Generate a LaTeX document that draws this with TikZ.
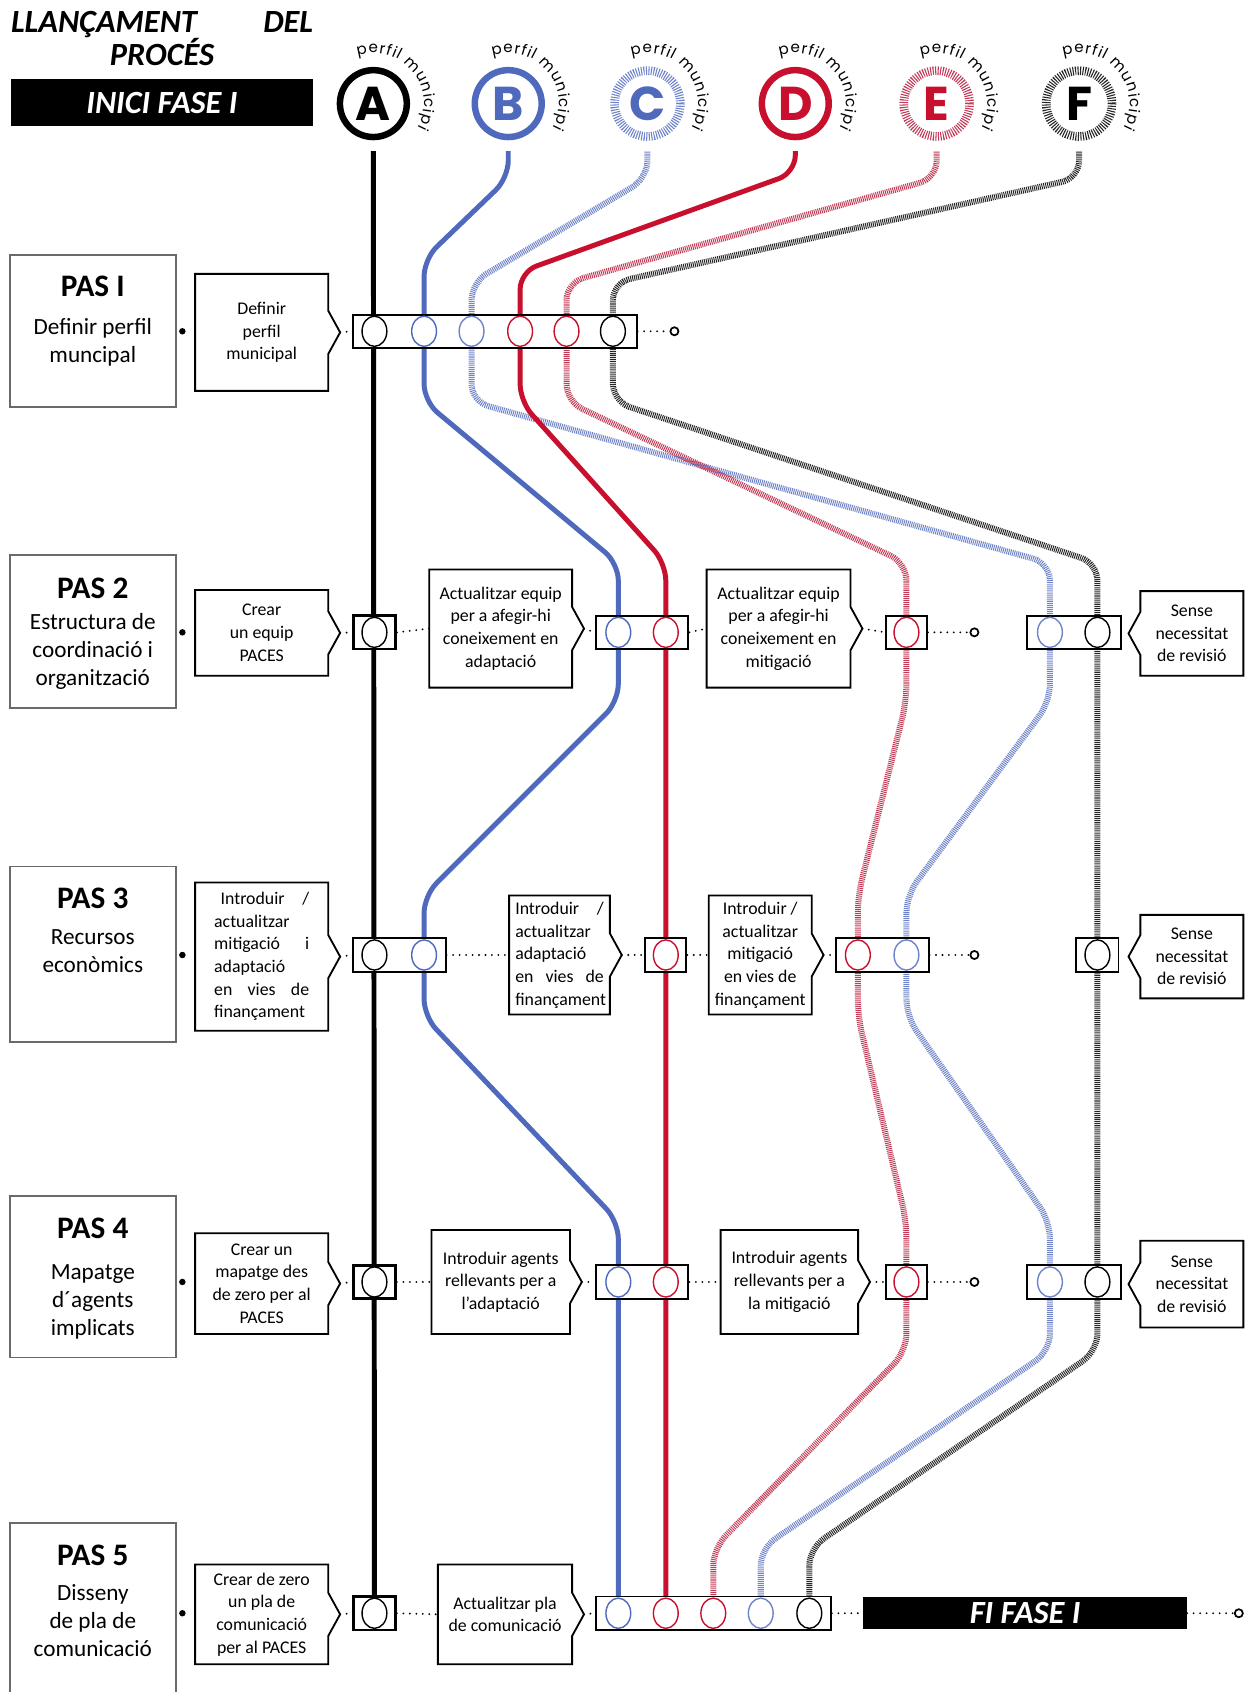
\documentclass[tikz,border=0pt]{standalone}
\usepackage{fontspec}
\setmainfont{Carlito}
\newfontfamily\popfont{Poppins}
\usetikzlibrary{calc,shapes.geometric,decorations.text}
\pgfdeclarelayer{back}
\pgfdeclarelayer{lines}
\pgfsetlayers{back,lines,main}
\definecolor{cB}{HTML}{4F69BC}
\definecolor{cC}{HTML}{6F84C8}
\definecolor{cD}{HTML}{C8102E}
\definecolor{cE}{HTML}{C23A55}
\definecolor{cF}{HTML}{262626}
\definecolor{pasgray}{HTML}{6A6A6A}
\newcommand\pasfnt{\fontsize{29}{30}\selectfont\bfseries}
\newcommand\bodyfnt{\fontsize{21.5}{26}\selectfont}
\newcommand\descfnt{\fontsize{16.5}{21}\selectfont}
\newcommand\hdrfnt{\fontsize{30}{31}\selectfont\bfseries\itshape}
\newcommand\letfnt{\popfont\bfseries\fontsize{44}{44}\selectfont}
\newcommand\arcfnt{\popfont\fontsize{14}{14}\selectfont}
\newcommand\spreadline[2]{\leavevmode\makebox[#1][s]{#2}}
\tikzset{
  solidln/.style={line width=4.6pt, rounded corners=16pt, shorten <=10pt},
  hatchln/.style={line width=5.6pt, dash pattern=on 0.9pt off 0.9pt, rounded corners=16pt, shorten <=10pt},
  pasbox/.style={draw=pasgray, line width=1.8pt, fill=white, minimum width=154pt, inner sep=0pt},
  pastitle/.style={font=\pasfnt, inner sep=0pt},
  pasbody/.style={font=\bodyfnt, align=center, inner sep=0pt},
  desc/.style={inner sep=0pt, align=center, font=\descfnt},
  boxline/.style={draw=black, line width=1.7pt, line join=miter},
  bar/.style={draw=black, line width=1.8pt, fill=white, minimum height=31pt, inner sep=0pt},
  abar/.style={bar, line width=2.6pt, minimum width=39pt},
  ring/.style={ellipse, draw=#1, line width=1.3pt, minimum width=23pt, minimum height=28pt, inner sep=0pt},
  term/.style={circle, draw, line width=1.6pt, minimum size=7.5pt, inner sep=0pt},
  ldot/.style={circle, fill, minimum size=6pt, inner sep=0pt},
  dots/.style={line width=1.9pt, line cap=round, dash pattern=on 0pt off 6pt},
  pcirc/.style={circle, draw=#1, line width=6pt, minimum size=62pt, inner sep=0pt, text=#1, font=\letfnt},
  phatch/.style 2 args={circle, draw=#1, line width=8pt, dash pattern=on 1pt off 1.3pt, minimum size=61pt, inner sep=0pt, text=#2, font=\letfnt},
  blackbox/.style={fill=black, text=white, font=\hdrfnt, inner sep=0pt},
}
\newcommand\rchev[1]{\draw[boxline] (#1.north west) -- (#1.north east) -- ($(#1.east)+(0,20)$) -- ($(#1.east)+(11,0)$) coordinate (#1-tip) -- ($(#1.east)+(0,-20)$) -- (#1.south east) -- (#1.south west) -- cycle;}
\newcommand\lchev[1]{\draw[boxline] (#1.north east) -- (#1.north west) -- ($(#1.west)+(0,20)$) -- ($(#1.west)+(-11,0)$) coordinate (#1-tip) -- ($(#1.west)+(0,-20)$) -- (#1.south west) -- (#1.south east) -- cycle;}
\newcommand\arclabel[1]{\path[decorate, decoration={text along path, text={|\arcfnt|perfil municipi}, text align=fit to path}] ($(#1.center)+(108:47)$) arc[start angle=108, end angle=-28, radius=47];}
\begin{document}
\begin{tikzpicture}[x=1pt,y=1pt]
\useasboundingbox (0,0) rectangle (1157,-1568);
\begin{pgfonlayer}{back}
\fill[white] (0,0) rectangle (1157,-1568);
\end{pgfonlayer}

% header
\node[anchor=north west, inner sep=0pt, font=\hdrfnt, align=center, text width=280pt] (hdr) at (10,-10) {\spreadline{280pt}{LLANÇAMENT\hfill DEL}\\PROCÉS};
\node[blackbox, minimum width=280pt, minimum height=44pt] (inici) at (150,-95) {INICI FASE I};

\node[pcirc=black] (pA) at (346,-96) {A};
\node[pcirc=cB] (pB) at (471,-96) {B};
\node[phatch={cC}{cB}] (pC) at (600,-96) {C};
\node[pcirc=cD] (pD) at (737,-96) {D};
\node[phatch={cE}{cD}] (pE) at (868,-96) {E};
\node[phatch={cF}{black}] (pF) at (1000,-96) {F};
\arclabel{pA}\arclabel{pB}\arclabel{pC}\arclabel{pD}\arclabel{pE}\arclabel{pF}

% ROW 1
\node[pasbox, minimum height=141pt] (p1) at (86,-306.5) {};
\node[pastitle, anchor=base] (p1h) at (86,-275) {PAS I};
\node[pasbody, anchor=north] (p1b) at (86,-295) {Definir perfil\\muncipal};
\node[ldot] (l1) at (169,-307) {};
\node[desc, minimum width=123pt, minimum height=108pt] (d11) at (242.5,-308) {Definir\\perfil\\municipal};
\rchev{d11}
\node[bar, minimum width=263pt] (b1) at (458.5,-307) {};
\node[ring=black] (b1A) at (347,-307) {};
\node[ring=cB] (b1B) at (393,-307) {};
\node[ring=cC] (b1C) at (437,-307) {};
\node[ring=cD] (b1D) at (482,-307) {};
\node[ring=cD] (b1E) at (525,-307) {};
\node[ring=black] (b1F) at (568,-307) {};
\node[term] (t1) at (625,-307) {};
\draw[dots] (d11-tip) -- (b1.west);
\draw[dots] (b1.east) -- (t1.west);

% ROW 2
\node[pasbox, minimum height=142pt] (p2) at (86,-585) {};
\node[pastitle, anchor=base] (p2h) at (86,-555) {PAS 2};
\node[pasbody, anchor=north] (p2b) at (86,-568) {Estructura de\\coordinació i\\organització};
\node[ldot] (l2) at (169,-586) {};
\node[desc, minimum width=123pt, minimum height=79pt] (d21) at (242.5,-586.5) {Crear\\un equip\\PACES};
\rchev{d21}
\node[abar] (a2) at (347,-586) {};
\node[ring=black] (a2A) at (347,-586) {};
\node[desc, minimum width=132pt, minimum height=109pt] (d22) at (464,-582.5) {Actualitzar equip\\per a afegir-hi\\coneixement en\\adaptació};
\rchev{d22}
\node[bar, minimum width=86pt] (bd2) at (595,-586) {};
\node[ring=cB] (bd2B) at (573,-586) {};
\node[ring=cD] (bd2D) at (617,-586) {};
\node[desc, minimum width=133pt, minimum height=109pt] (d23) at (721.5,-582.5) {Actualitzar equip\\per a afegir-hi\\coneixement en\\mitigació};
\rchev{d23}
\node[bar, minimum width=38pt] (e2) at (840,-586) {};
\node[ring=cD] (e2E) at (840,-586) {};
\node[term] (t2) at (903,-586) {};
\node[bar, minimum width=87pt] (cf2) at (995,-586) {};
\node[ring=cC] (cf2C) at (973,-586) {};
\node[ring=black] (cf2F) at (1017,-586) {};
\node[desc, minimum width=95pt, minimum height=78pt] (s2) at (1104.5,-587) {Sense\\necessitat\\de revisió};
\lchev{s2}
\draw[dots] (d21-tip) -- (a2.west);
\draw[dots] (a2.east) -- (d22.west);
\draw[dots] (d22-tip) -- (bd2.west);
\draw[dots] (bd2.east) -- (d23.west);
\draw[dots] (d23-tip) -- (e2.west);
\draw[dots] (e2.east) -- (t2.west);

% ROW 3
\node[pasbox, minimum height=163pt] (p3) at (86,-884.5) {};
\node[pastitle, anchor=base] (p3h) at (86,-842) {PAS 3};
\node[pasbody, anchor=north] (p3b) at (86,-861) {Recursos\\econòmics};
\node[ldot] (l3) at (169,-885) {};
\node[desc, minimum width=123pt, minimum height=137pt, align=left, text width=88pt] (d31) at (242.5,-886.5) {\spreadline{88pt}{\hspace{6pt}Introduir\hfill/}\\actualitzar\\\spreadline{88pt}{mitigació\hfill i}\\adaptació\\\spreadline{88pt}{en\hfill vies\hfill de}\\finançament};
\rchev{d31}
\node[bar, minimum width=86pt] (ab3) at (370,-885) {};
\node[ring=black] (ab3A) at (347,-885) {};
\node[ring=cB] (ab3B) at (393,-885) {};
\node[desc, minimum width=93pt, minimum height=110pt, align=left, text width=82pt] (d32) at (518.5,-885) {\spreadline{82pt}{Introduir\hfill/}\\actualitzar\\adaptació\\\spreadline{82pt}{en\hfill vies\hfill de}\\finançament};
\rchev{d32}
\node[bar, minimum width=38pt] (d3) at (617,-885) {};
\node[ring=cD] (d3D) at (617,-885) {};
\node[desc, minimum width=95pt, minimum height=110pt] (d33) at (704.5,-885) {Introduir /\\actualitzar\\mitigació\\en vies de\\finançament};
\rchev{d33}
\node[bar, minimum width=86pt] (ec3) at (817.5,-885) {};
\node[ring=cD] (ec3E) at (795,-885) {};
\node[ring=cC] (ec3C) at (840,-885) {};
\node[term] (t3) at (903,-885) {};
\node[bar, minimum width=39pt] (f3) at (1017,-885) {};
\node[ring=black] (f3F) at (1017,-885) {};
\node[desc, minimum width=95pt, minimum height=77pt] (s3) at (1104.5,-886.5) {Sense\\necessitat\\de revisió};
\lchev{s3}
\draw[dots] (d31-tip) -- (ab3.west);
\draw[dots] (ab3.east) -- (d32.west);
\draw[dots] (d32-tip) -- (d3.west);
\draw[dots] (d3.east) -- (d33.west);
\draw[dots] (d33-tip) -- (ec3.west);
\draw[dots] (ec3.east) -- (t3.west);

% ROW 4
\node[pasbox, minimum height=150pt] (p4) at (86,-1183) {};
\node[pastitle, anchor=base] (p4h) at (86,-1148) {PAS 4};
\node[pasbody, anchor=north] (p4b) at (86,-1172) {Mapatge\\d´agents\\implicats};
\node[ldot] (l4) at (169,-1188) {};
\node[desc, minimum width=123pt, minimum height=93pt] (d41) at (242.5,-1189.5) {Crear un\\mapatge des\\de zero per al\\PACES};
\rchev{d41}
\node[abar] (a4) at (347,-1188) {};
\node[ring=black] (a4A) at (347,-1188) {};
\node[desc, minimum width=128pt, minimum height=96pt] (d42) at (464,-1188) {Introduir agents\\rellevants per a\\l’adaptació};
\rchev{d42}
\node[bar, minimum width=86pt] (bd4) at (595,-1188) {};
\node[ring=cB] (bd4B) at (573,-1188) {};
\node[ring=cD] (bd4D) at (617,-1188) {};
\node[desc, minimum width=127pt, minimum height=96pt] (d43) at (731.5,-1188) {Introduir agents\\rellevants per a\\la mitigació};
\rchev{d43}
\node[bar, minimum width=38pt] (e4) at (840,-1188) {};
\node[ring=cD] (e4E) at (840,-1188) {};
\node[term] (t4) at (903,-1188) {};
\node[bar, minimum width=87pt] (cf4) at (995,-1188) {};
\node[ring=cC] (cf4C) at (973,-1188) {};
\node[ring=black] (cf4F) at (1017,-1188) {};
\node[desc, minimum width=95pt, minimum height=80pt] (s4) at (1104.5,-1190) {Sense\\necessitat\\de revisió};
\lchev{s4}
\draw[dots] (d41-tip) -- (a4.west);
\draw[dots] (a4.east) -- (d42.west);
\draw[dots] (d42-tip) -- (bd4.west);
\draw[dots] (bd4.east) -- (d43.west);
\draw[dots] (d43-tip) -- (e4.west);
\draw[dots] (e4.east) -- (t4.west);

% ROW 5
\node[pasbox, minimum height=189pt] (p5) at (86,-1505.5) {};
\node[pastitle, anchor=base] (p5h) at (86,-1451) {PAS 5};
\node[pasbody, anchor=north] (p5b) at (86,-1468) {Disseny\\de pla de\\comunicació};
\node[ldot] (l5) at (169,-1495) {};
\node[desc, minimum width=123pt, minimum height=92pt] (d51) at (242.5,-1496) {Crear de zero\\un pla de\\comunicació\\per al PACES};
\rchev{d51}
\node[abar] (a5) at (347,-1495) {};
\node[ring=black] (a5A) at (347,-1495) {};
\node[desc, minimum width=124pt, minimum height=92pt] (d52) at (468,-1496) {Actualitzar pla\\de comunicació};
\rchev{d52}
\node[bar, minimum width=218pt] (all5) at (661,-1495) {};
\node[ring=cB] (c5B) at (573,-1495) {};
\node[ring=cD] (c5D) at (617,-1495) {};
\node[ring=cD] (c5E) at (661,-1495) {};
\node[ring=cC] (c5C) at (705,-1495) {};
\node[ring=black] (c5F) at (750,-1495) {};
\node[blackbox, minimum width=300pt, minimum height=30pt] (fi) at (950,-1495) {FI FASE I};
\node[term] (t5) at (1148,-1495) {};
\draw[dots] (d51-tip) -- (a5.west);
\draw[dots] (a5.east) -- (d52.west);
\draw[dots] (d52-tip) -- (all5.west);
\draw[dots] (all5.east) -- (fi.west);
\draw[dots] (fi.east) -- (t5.west);

% profile lines
\begin{pgfonlayer}{lines}
\draw[hatchln, draw=cC] (pC.south) -- (600,-165) -- (437,-262) -- (b1C.center) -- (437,-372) -- (973,-522) -- (cf2C.center) -- (973,-650) -- (840,-830) -- (ec3C.center) -- (840,-942) -- (973,-1132) -- (cf4C.center) -- (973,-1252) -- (705,-1435) -- (c5C.center);
\draw[hatchln, draw=cE] (pE.south) -- (868,-165) -- (525,-262) -- (b1E.center) -- (525,-372) -- (840,-522) -- (e2E.center) -- (840,-650) -- (795,-830) -- (ec3E.center) -- (795,-942) -- (840,-1132) -- (e4E.center) -- (840,-1252) -- (661,-1435) -- (c5E.center);
\draw[hatchln, draw=cF] (pF.south) -- (1000,-165) -- (568,-262) -- (b1F.center) -- (568,-372) -- (1017,-522) -- (cf2F.center) -- (f3F.center) -- (cf4F.center) -- (1017,-1252) -- (750,-1435) -- (c5F.center);
\draw[solidln, draw=cB] (pB.south) -- (471,-165) -- (393,-240) -- (b1B.center) -- (393,-372) -- (573,-522) -- (bd2B.center) -- (573,-650) -- (393,-830) -- (ab3B.center) -- (393,-942) -- (573,-1132) -- (bd4B.center) -- (c5B.center);
\draw[solidln, draw=cD] (pD.south) -- (737,-160) -- (482,-252) -- (b1D.center) -- (482,-372) -- (617,-522) -- (bd2D.center) -- (d3D.center) -- (bd4D.center) -- (c5D.center);
\draw[solidln, draw=black] (pA.south) -- (a5A.center);
\end{pgfonlayer}
\end{tikzpicture}
\end{document}
